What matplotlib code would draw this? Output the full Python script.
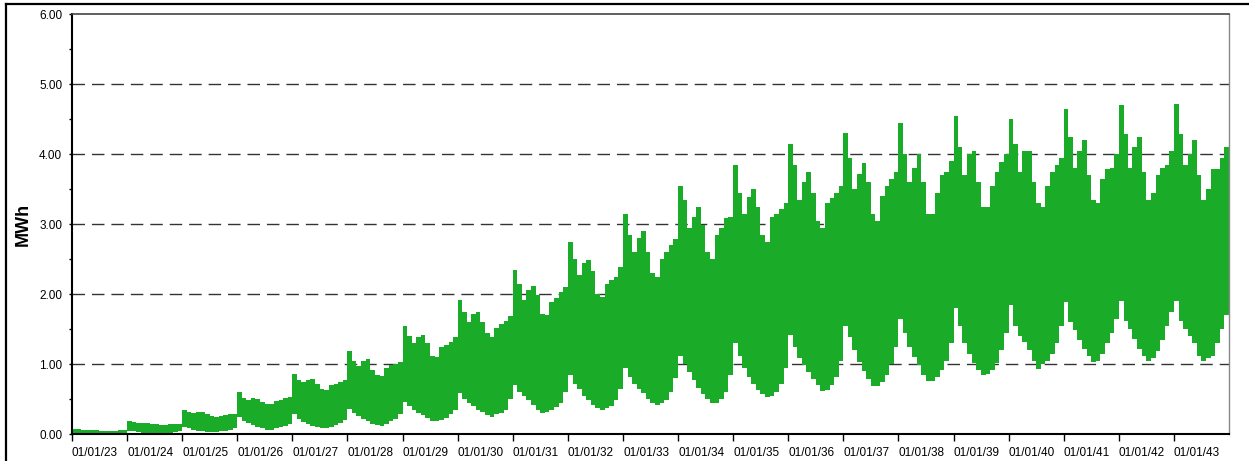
import matplotlib
matplotlib.use('Agg')
import matplotlib.pyplot as plt
import matplotlib.dates as mdates
from matplotlib.lines import Line2D
from matplotlib.ticker import MultipleLocator
import numpy as np
import datetime as dt

# 数据：每年 12 个月的上下包络（MWh）
years = list(range(2023, 2044))
upper_mwh = [
    [0.07, 0.07, 0.06, 0.06, 0.06, 0.06, 0.05, 0.05, 0.05, 0.05, 0.06, 0.06],
    [0.18, 0.17, 0.16, 0.16, 0.16, 0.15, 0.14, 0.13, 0.13, 0.14, 0.15, 0.15],
    [0.35, 0.32, 0.30, 0.31, 0.31, 0.29, 0.26, 0.25, 0.26, 0.27, 0.28, 0.29],
    [0.60, 0.52, 0.49, 0.51, 0.50, 0.46, 0.43, 0.43, 0.47, 0.49, 0.51, 0.53],
    [0.86, 0.77, 0.74, 0.77, 0.79, 0.72, 0.65, 0.63, 0.70, 0.72, 0.74, 0.77],
    [1.18, 1.05, 0.97, 1.04, 1.07, 0.92, 0.84, 0.83, 0.95, 0.99, 1.00, 1.03],
    [1.55, 1.40, 1.30, 1.38, 1.42, 1.30, 1.12, 1.10, 1.25, 1.27, 1.32, 1.38],
    [1.92, 1.75, 1.60, 1.72, 1.75, 1.60, 1.45, 1.39, 1.52, 1.57, 1.62, 1.68],
    [2.35, 2.15, 1.92, 2.06, 2.12, 1.98, 1.72, 1.70, 1.88, 1.95, 2.03, 2.10],
    [2.75, 2.50, 2.27, 2.45, 2.49, 2.33, 2.00, 1.96, 2.15, 2.20, 2.25, 2.38],
    [3.15, 2.85, 2.60, 2.80, 2.90, 2.60, 2.30, 2.25, 2.50, 2.60, 2.70, 2.78],
    [3.55, 3.35, 2.95, 3.10, 3.25, 2.98, 2.60, 2.50, 2.85, 2.95, 3.08, 3.10],
    [3.85, 3.45, 3.15, 3.38, 3.50, 3.25, 2.85, 2.75, 3.10, 3.15, 3.22, 3.30],
    [4.15, 3.85, 3.35, 3.60, 3.75, 3.45, 3.05, 2.95, 3.30, 3.37, 3.45, 3.55],
    [4.30, 3.95, 3.50, 3.72, 3.87, 3.60, 3.15, 3.05, 3.40, 3.55, 3.65, 3.75],
    [4.45, 4.00, 3.60, 3.80, 4.00, 3.60, 3.15, 3.15, 3.45, 3.70, 3.75, 3.90],
    [4.55, 4.10, 3.70, 4.00, 4.05, 3.60, 3.25, 3.25, 3.55, 3.75, 3.88, 4.00],
    [4.50, 4.15, 3.75, 4.05, 4.05, 3.60, 3.30, 3.25, 3.55, 3.75, 3.85, 3.95],
    [4.65, 4.25, 3.80, 4.05, 4.20, 3.70, 3.35, 3.30, 3.65, 3.78, 3.80, 4.00],
    [4.70, 4.28, 3.80, 4.10, 4.25, 3.75, 3.35, 3.45, 3.70, 3.80, 3.85, 4.05],
    [4.72, 4.28, 3.85, 4.00, 4.20, 3.70, 3.35, 3.50, 3.78, 3.78, 3.95, 4.10],
]
lower_mwh = [
    [0.02, 0.02, 0.01, 0.01, 0.01, 0.01, 0.01, 0.01, 0.01, 0.01, 0.01, 0.02],
    [0.05, 0.04, 0.03, 0.02, 0.01, 0.01, 0.01, 0.01, 0.02, 0.02, 0.03, 0.04],
    [0.10, 0.08, 0.06, 0.05, 0.04, 0.03, 0.03, 0.03, 0.04, 0.05, 0.06, 0.08],
    [0.25, 0.19, 0.16, 0.13, 0.10, 0.08, 0.06, 0.06, 0.08, 0.10, 0.12, 0.15],
    [0.28, 0.22, 0.17, 0.14, 0.12, 0.10, 0.08, 0.08, 0.10, 0.13, 0.16, 0.20],
    [0.36, 0.30, 0.26, 0.22, 0.18, 0.15, 0.13, 0.12, 0.14, 0.18, 0.22, 0.28],
    [0.46, 0.40, 0.34, 0.30, 0.27, 0.23, 0.19, 0.18, 0.20, 0.23, 0.28, 0.34],
    [0.58, 0.50, 0.45, 0.40, 0.35, 0.31, 0.27, 0.25, 0.28, 0.30, 0.35, 0.50],
    [0.70, 0.60, 0.55, 0.48, 0.42, 0.35, 0.30, 0.31, 0.34, 0.38, 0.45, 0.60],
    [0.84, 0.72, 0.64, 0.55, 0.48, 0.42, 0.37, 0.35, 0.37, 0.40, 0.48, 0.65],
    [0.95, 0.82, 0.72, 0.65, 0.58, 0.50, 0.45, 0.41, 0.44, 0.48, 0.60, 0.80],
    [1.12, 1.00, 0.88, 0.77, 0.66, 0.57, 0.50, 0.45, 0.45, 0.50, 0.60, 0.85],
    [1.30, 1.12, 0.95, 0.82, 0.72, 0.63, 0.57, 0.53, 0.55, 0.60, 0.72, 0.95],
    [1.42, 1.25, 1.08, 0.98, 0.88, 0.78, 0.70, 0.62, 0.63, 0.70, 0.82, 1.05],
    [1.55, 1.38, 1.20, 1.03, 0.90, 0.78, 0.68, 0.68, 0.75, 0.85, 1.00, 1.25],
    [1.65, 1.45, 1.25, 1.10, 0.98, 0.85, 0.76, 0.76, 0.82, 0.92, 1.05, 1.30],
    [1.80, 1.55, 1.30, 1.15, 1.02, 0.92, 0.85, 0.86, 0.92, 1.02, 1.20, 1.45],
    [1.85, 1.55, 1.40, 1.32, 1.20, 1.05, 0.93, 1.00, 1.05, 1.15, 1.30, 1.55],
    [1.88, 1.60, 1.48, 1.35, 1.22, 1.12, 1.03, 1.05, 1.15, 1.30, 1.45, 1.65],
    [1.90, 1.62, 1.50, 1.36, 1.22, 1.12, 1.05, 1.08, 1.18, 1.35, 1.55, 1.75],
    [1.90, 1.62, 1.50, 1.40, 1.30, 1.12, 1.05, 1.08, 1.12, 1.30, 1.50, 1.70],
]
y_ticks = [0, 1, 2, 3, 4, 5, 6]
grid_levels = [1, 2, 3, 4, 5]

green = '#1aab28'

plt.rcParams['font.family'] = ['Liberation Sans', 'DejaVu Sans']

fig = plt.figure(figsize=(12.49, 4.61), dpi=100)
ax = fig.add_axes([72 / 1249, 1 - 434 / 461, (1229 - 72) / 1249, (434 - 14) / 461])

# 按月的台阶填充
months = np.arange('%d-01' % years[0], '%d-01' % (years[-1] + 1), dtype='datetime64[M]')
x = np.append(months, np.datetime64('%d-01' % (years[-1] + 1), 'M')).astype('datetime64[D]').astype(object)
up = np.concatenate(upper_mwh)
lo = np.concatenate(lower_mwh)
up = np.append(up, up[-1])
lo = np.append(lo, lo[-1])
ax.fill_between(x, lo, up, step='post', color=green, linewidth=0, zorder=2)

# 虚线网格（不画 0 和 6）
for g in grid_levels:
    ax.axhline(g, color='#333333', linestyle=(0, (9, 5)), linewidth=1.0, zorder=1)

ax.set_xlim(x[0], x[-1])
ax.set_ylim(0, 6)
ax.set_yticks(y_ticks)
ax.set_yticklabels(['%.2f' % v for v in y_ticks])
ax.yaxis.set_minor_locator(MultipleLocator(0.5))

ax.set_xticks([dt.date(y, 1, 1) for y in years])
ax.xaxis.set_major_formatter(mdates.DateFormatter('%m/%d/%y'))

ax.tick_params(axis='x', direction='out', length=5, width=1, pad=4, labelsize=8.5, colors='black')
ax.tick_params(axis='y', which='major', direction='out', length=2, width=1, pad=5, labelsize=8.5)
ax.tick_params(axis='y', which='minor', direction='out', length=2, width=1)
for lab in ax.get_xticklabels():
    lab.set_horizontalalignment('left')

ax.spines['left'].set_linewidth(1.5)
ax.spines['bottom'].set_linewidth(1.5)
ax.spines['top'].set_color('#444444')
ax.spines['top'].set_linewidth(1.2)
ax.spines['right'].set_color('#888888')
ax.spines['right'].set_linewidth(1.0)

ax.set_ylabel('MWh', fontsize=13, fontweight='bold')
ax.yaxis.set_label_coords(-40 / 1157, 0.5)

# 外边框（只露出左边和上边）
fig.add_artist(Line2D([6 / 1249, 6 / 1249], [0, 1 - 4 / 461], color='black', linewidth=1.6))
fig.add_artist(Line2D([6 / 1249, 1], [1 - 4 / 461, 1 - 4 / 461], color='black', linewidth=1.6))

fig.savefig('out.png', dpi=100)
